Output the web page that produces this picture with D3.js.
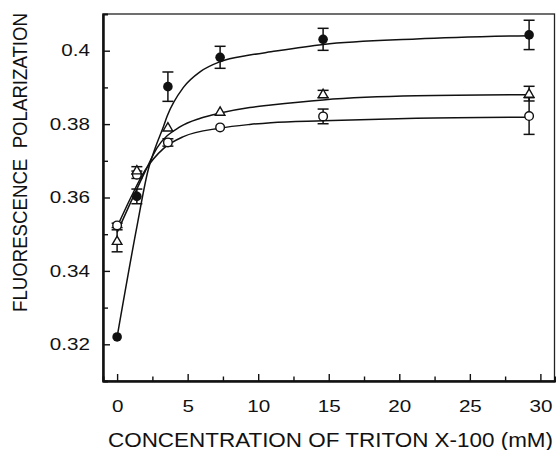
<!DOCTYPE html>
<html>
<head>
<meta charset="utf-8">
<script src="https://cdn.jsdelivr.net/npm/d3@7"></script>
<style>
  body { margin: 0; background: #fff; }
  svg { display: block; font-family: "Liberation Sans", Arial, sans-serif; }
</style>
</head>
<body>
<svg id="chart" width="559" height="450"></svg>
<script>
// measured points (concentration in mM)
var conc = [0, 1.4, 3.6, 7.3, 14.6, 29.2];
var filledY = [0.322, 0.3603, 0.3902, 0.3982, 0.4031, 0.4043];
var filledErr = [0, 0.002, 0.004, 0.003, 0.003, 0.004];
var triY = [0.3482, 0.3674, 0.3791, 0.3834, 0.3882, 0.3883];
var triErr = [0.003, 0.001, 0, 0, 0.001, 0.002];
var openY = [0.3524, 0.3662, 0.375, 0.3791, 0.3821, 0.3822];
var openErr = [0.0006, 0.001, 0.001, 0, 0.002, 0.005];

// fitted curves
var filledFitX = [0, 1.4, 2.2, 2.7, 3.3, 3.55, 4.7, 5.9, 7.3, 9.4, 10.9, 14.6, 21.2, 29.2];
var filledFitY = [0.322, 0.352, 0.3675, 0.3735, 0.3795, 0.3822, 0.390, 0.3943, 0.397, 0.3988, 0.3997, 0.4017, 0.4032, 0.4041];
var triFitX = [0, 1, 2, 2.83, 4.48, 5.9, 7.3, 9.4, 10.9, 14.6, 21.2, 29.2];
var triFitY = [0.3505, 0.359, 0.3672, 0.3735, 0.3793, 0.3816, 0.383, 0.3845, 0.3852, 0.3866, 0.3877, 0.388];
var openFitX = [0, 1, 2, 3.3, 4.7, 7.3, 9.4, 10.9, 14.6, 21.2, 29.2];
var openFitY = [0.352, 0.3602, 0.3675, 0.3734, 0.3766, 0.3789, 0.3799, 0.3804, 0.3809, 0.3816, 0.3819];

var xMajor = [0, 5, 10, 15, 20, 25, 30];
var xMinor = [2.5, 7.5, 12.5, 17.5, 22.5, 27.5];
var yMajor = [0.32, 0.34, 0.36, 0.38, 0.4];
var yMinor = [0.33, 0.35, 0.37, 0.39];

var svg = d3.select("#chart"),
    pLeft = 103, pRight = 554.5, pTop = 14, pBottom = 381;

var x = d3.scaleLinear().domain([-1, 31]).range([pLeft, pRight]);
var y = d3.scaleLinear().domain([0.31, 0.41]).range([pBottom, pTop]);

// frame (top/right thin)
svg.append("rect")
    .attr("x", pLeft).attr("y", pTop)
    .attr("width", pRight - pLeft).attr("height", pBottom - pTop)
    .attr("fill", "none").attr("stroke", "#222").attr("stroke-width", 1.3);

// x axis, ticks pointing inward
var gx = svg.append("g").attr("transform", "translate(0," + pBottom + ")");
gx.call(d3.axisBottom(x).tickValues(xMajor).tickSizeInner(-7).tickSizeOuter(0).tickPadding(14)
    .tickFormat(d3.format("d")));
gx.append("g").call(d3.axisBottom(x).tickValues(xMinor).tickSize(-4.5).tickFormat(""));
gx.selectAll(".domain").attr("stroke-width", 2).attr("stroke", "#111");
gx.selectAll(".tick line").attr("stroke-width", 1.4).attr("stroke", "#111");
gx.selectAll("text").attr("font-size", 16.5).attr("fill", "#111").attr("dy", "1.05em");

var gy = svg.append("g").attr("transform", "translate(" + pLeft + ",0)");
gy.call(d3.axisLeft(y).tickValues(yMajor).tickSizeInner(-7).tickSizeOuter(0).tickPadding(13)
    .tickFormat(function (d) { return d === 0.4 ? "0.4" : d3.format(".2f")(d); }));
gy.append("g").call(d3.axisLeft(y).tickValues(yMinor).tickSize(-5).tickFormat(""));
gy.selectAll(".domain").attr("stroke-width", 2).attr("stroke", "#111");
gy.selectAll(".tick line").attr("stroke-width", 1.4).attr("stroke", "#111");
gy.selectAll("text").attr("font-size", 16.5).attr("fill", "#111");

// the original figure is a bit wider than tall, stretch tick labels
svg.selectAll(".tick text").each(function () {
    var w = this.getComputedTextLength();
    if (w > 0) d3.select(this).attr("textLength", w * 1.25).attr("lengthAdjust", "spacingAndGlyphs");
});

// axis titles
svg.append("text")
    .attr("x", 108).attr("y", 447)
    .attr("font-size", 20.5).attr("fill", "#111")
    .attr("textLength", 445).attr("lengthAdjust", "spacingAndGlyphs")
    .text("CONCENTRATION OF TRITON X-100 (mM)");

svg.append("text")
    .attr("transform", "translate(27,312) rotate(-90)")
    .attr("font-size", 20).attr("fill", "#111")
    .attr("textLength", 299).attr("lengthAdjust", "spacingAndGlyphs")
    .text("FLUORESCENCE\u00a0\u00a0POLARIZATION");

// fitted lines
var line = d3.line().curve(d3.curveMonotoneX);
function drawFit(xs, ys) {
    svg.append("path")
        .attr("d", line(xs.map(function (v, i) { return [x(v), y(ys[i])]; })))
        .attr("fill", "none").attr("stroke", "#111").attr("stroke-width", 1.5);
}
drawFit(filledFitX, filledFitY);
drawFit(triFitX, triFitY);
drawFit(openFitX, openFitY);

// error bars
function drawErr(ys, errs) {
    var g = svg.append("g").attr("stroke", "#111").attr("stroke-width", 1.5);
    conc.forEach(function (c, i) {
        if (!errs[i]) return;
        var cx = x(c), y1 = y(ys[i] + errs[i]), y2 = y(ys[i] - errs[i]);
        g.append("line").attr("x1", cx).attr("x2", cx).attr("y1", y1).attr("y2", y2);
        g.append("line").attr("x1", cx - 5.5).attr("x2", cx + 5.5).attr("y1", y1).attr("y2", y1);
        g.append("line").attr("x1", cx - 5.5).attr("x2", cx + 5.5).attr("y1", y2).attr("y2", y2);
    });
}
drawErr(openY, openErr);
drawErr(triY, triErr);
drawErr(filledY, filledErr);

// markers
svg.append("g").selectAll("circle").data(conc).join("circle")
    .attr("cx", function (d) { return x(d); })
    .attr("cy", function (d, i) { return y(openY[i]); })
    .attr("r", 4.3)
    .attr("fill", "#fff").attr("stroke", "#111").attr("stroke-width", 1.4);

var tri = d3.symbol().type(d3.symbolTriangle).size(40);
svg.append("g").selectAll("path").data(conc).join("path")
    .attr("transform", function (d, i) { return "translate(" + x(d) + "," + (y(triY[i]) + 0.8) + ")"; })
    .attr("d", tri)
    .attr("fill", "#fff").attr("stroke", "#111").attr("stroke-width", 1.4);

svg.append("g").selectAll("circle").data(conc).join("circle")
    .attr("cx", function (d) { return x(d); })
    .attr("cy", function (d, i) { return y(filledY[i]); })
    .attr("r", 4.8)
    .attr("fill", "#111");
</script>
</body>
</html>
